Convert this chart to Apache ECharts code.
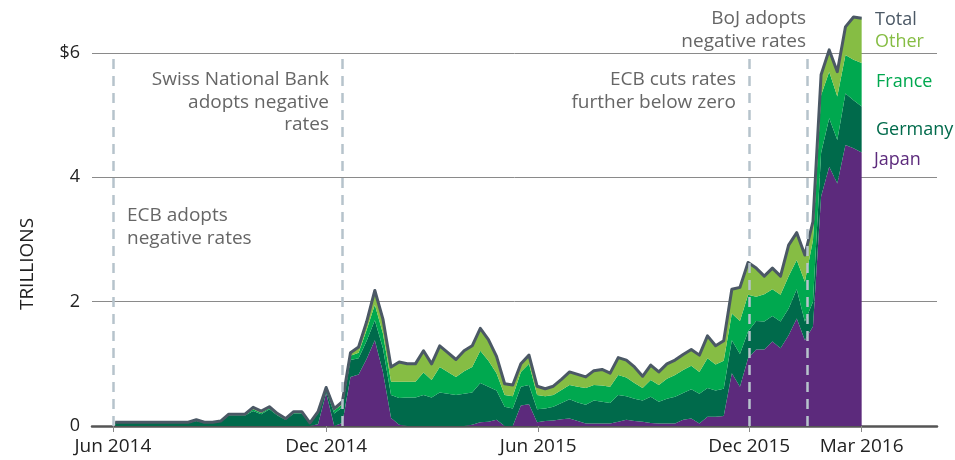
<!DOCTYPE html>
<html>
<head>
<meta charset="utf-8">
<script src="https://cdn.jsdelivr.net/npm/echarts@6/dist/echarts.min.js"></script>
<style>
  html, body { margin: 0; padding: 0; background: #fff; }
  #chart { width: 955px; height: 460px; }
</style>
</head>
<body>
<div id="chart"></div>
<script>
// weekly holdings in $ trillions, first week ending 2014-05-30
const firstWeek = Date.UTC(2014, 4, 30);
const japan = [
  0, 0, 0, 0, 0, 0, 0, 0, 0, 0, 0, 0, 0, 0, 0, 0, 0, 0, 0, 0, 0, 0, 0, 0, 0,
  0.03, 0.53, 0, 0.05, 0.79, 0.83, 1.08, 1.38, 0.87, 0.13, 0.02,
  0, 0, 0, 0, 0, 0, 0, 0,
  0.02, 0.06, 0.07, 0.1, 0, 0, 0.33, 0.35, 0.06, 0.08, 0.09, 0.11, 0.12, 0.08, 0.04, 0.04,
  0.04, 0.04, 0.07, 0.1, 0.08, 0.07, 0.05, 0.04, 0.04, 0.04, 0.1, 0.12, 0.04, 0.15, 0.15,
  0.16, 0.85, 0.63, 1.09, 1.23, 1.23, 1.36, 1.25, 1.46, 1.73, 1.38, 1.6, 3.69, 4.17, 3.9,
  4.52, 4.47, 4.4
];
const germany = [
  0.05, 0.05, 0.05, 0.05, 0.05, 0.05, 0.05, 0.05, 0.05, 0.05, 0.08, 0.05, 0.05, 0.07,
  0.17, 0.17, 0.17, 0.24, 0.19, 0.27, 0.17, 0.1, 0.2, 0.2, 0.04, 0.17, 0.04, 0.2, 0.25,
  0.27, 0.26, 0.29, 0.32, 0.38, 0.37, 0.43, 0.46, 0.46, 0.5, 0.46, 0.54, 0.52, 0.5, 0.52,
  0.52, 0.63, 0.56, 0.47, 0.31, 0.28, 0.3, 0.31, 0.21, 0.2, 0.22, 0.26, 0.31, 0.3, 0.3,
  0.37, 0.35, 0.33, 0.43, 0.38, 0.36, 0.34, 0.42, 0.35, 0.4, 0.43, 0.43, 0.47, 0.48, 0.46,
  0.42, 0.44, 0.53, 0.53, 0.43, 0.46, 0.45, 0.41, 0.43, 0.43, 0.47, 0.3, 0.4, 0.7, 0.78,
  0.7, 0.83, 0.77, 0.74
];
const france = [
  0.01, 0.01, 0.01, 0.01, 0.01, 0.01, 0.01, 0.01, 0.01, 0.01, 0.01, 0.01, 0.01, 0.01,
  0.01, 0.01, 0.01, 0.03, 0.02, 0.02, 0.01, 0.01, 0.01, 0.01, 0.01, 0.01, 0.03, 0.05, 0.05,
  0.07, 0.09, 0.18, 0.25, 0.24, 0.21, 0.26, 0.25, 0.25, 0.36, 0.28, 0.41, 0.35, 0.29, 0.36,
  0.41, 0.52, 0.42, 0.28, 0.19, 0.2, 0.24, 0.34, 0.23, 0.2, 0.19, 0.21, 0.23, 0.25, 0.27,
  0.25, 0.26, 0.26, 0.32, 0.3, 0.25, 0.2, 0.27, 0.27, 0.32, 0.35, 0.37, 0.38, 0.35, 0.48,
  0.42, 0.45, 0.43, 0.53, 0.59, 0.39, 0.44, 0.43, 0.43, 0.52, 0.47, 0.64, 0.99, 0.93, 0.75,
  0.7, 0.62, 0.65, 0.7
];
const other = [
  0, 0, 0, 0, 0, 0, 0, 0, 0, 0, 0.01, 0, 0, 0,
  0.01, 0.01, 0.01, 0.03, 0.03, 0.02, 0.02, 0.01, 0.02, 0.02, 0, 0.02, 0.02, 0.03, 0.04,
  0.05, 0.09, 0.13, 0.23, 0.23, 0.24, 0.32, 0.29, 0.29, 0.35, 0.26, 0.34, 0.31, 0.28, 0.33,
  0.34, 0.36, 0.34, 0.27, 0.18, 0.18, 0.13, 0.14, 0.14, 0.12, 0.14, 0.17, 0.21, 0.2, 0.18,
  0.23, 0.26, 0.22, 0.28, 0.28, 0.26, 0.19, 0.24, 0.21, 0.24, 0.24, 0.25, 0.26, 0.27, 0.36,
  0.3, 0.32, 0.39, 0.54, 0.52, 0.46, 0.29, 0.34, 0.3, 0.5, 0.44, 0.43, 0.3, 0.33, 0.35,
  0.4, 0.45, 0.69, 0.72
];

const tickDates = [Date.UTC(2014, 4, 28), Date.UTC(2014, 10, 28), Date.UTC(2015, 4, 30), Date.UTC(2015, 10, 28), Date.UTC(2016, 2, 4)];
const tickLabels = ['Jun 2014', 'Dec 2014', 'Jun 2015', 'Dec 2015', 'Mar 2016'];
const yTicks = [0, 2, 4, 6];

const eventDates = [Date.UTC(2014, 4, 28), Date.UTC(2014, 11, 12), Date.UTC(2015, 10, 28), Date.UTC(2016, 0, 17)];

const xMin = Date.UTC(2014, 4, 10);
const xMax = Date.UTC(2016, 4, 8);

const FONT = '"Open Sans", sans-serif';
const colors = { japan: '#5c2a7c', germany: '#006a4b', france: '#00a84f', other: '#86bd44', total: '#4b5865' };

const week = 7 * 24 * 3600 * 1000;
const dates = japan.map((_, i) => firstWeek + i * week);
const pairs = arr => arr.map((v, i) => [dates[i], v]);
const total = japan.map((v, i) => +(v + germany[i] + france[i] + other[i]).toFixed(2));

const chart = echarts.init(document.getElementById('chart'));

function areaSeries(name, data, color) {
  return {
    name: name,
    type: 'line',
    stack: 'all',
    data: pairs(data),
    showSymbol: false,
    lineStyle: { width: 0 },
    areaStyle: { color: color, opacity: 1 },
    itemStyle: { color: color }
  };
}

function text(x, y, str, color, align, vAlign, size, extra) {
  return Object.assign({
    type: 'text', x: x, y: y, silent: true,
    style: { text: str, fill: color, font: size + 'px ' + FONT, align: align, verticalAlign: vAlign, lineHeight: 22.5 }
  }, extra || {});
}

chart.setOption({
  animation: false,
  grid: { left: 92, right: 18, top: 9.5, bottom: 34, outerBoundsMode: 'none' },
  xAxis: [
    {
      // data axis (hidden), weekly dates
      type: 'time',
      position: 'top',
      min: xMin,
      max: xMax,
      axisLine: { show: false },
      axisTick: { show: false },
      axisLabel: { show: false },
      splitLine: { show: false }
    },
    {
      // visible axis with the custom date ticks
      type: 'value',
      position: 'bottom',
      min: xMin,
      max: xMax,
      axisLine: { lineStyle: { color: '#555', width: 2.5 } },
      axisTick: { customValues: tickDates, length: 6, lineStyle: { color: '#888', width: 1 } },
      axisLabel: {
        customValues: tickDates,
        color: '#222',
        fontFamily: FONT,
        fontSize: 19,
        margin: 11,
        formatter: v => { const i = tickDates.indexOf(v); return i >= 0 ? tickLabels[i] : ''; }
      },
      splitLine: { show: false }
    }
  ],
  yAxis: {
    type: 'value',
    min: 0,
    max: 6.7,
    axisLine: { show: false },
    axisTick: { show: false, customValues: yTicks },
    axisLabel: {
      customValues: yTicks,
      color: '#222',
      fontFamily: FONT,
      fontSize: 18,
      margin: 12,
      formatter: v => v === 6 ? '$6' : String(v)
    },
    splitLine: { lineStyle: { color: '#8a8a8a', width: 1 } }
  },
  series: [
    areaSeries('Japan', japan, colors.japan),
    areaSeries('Germany', germany, colors.germany),
    areaSeries('France', france, colors.france),
    areaSeries('Other', other, colors.other),
    {
      name: 'Total',
      type: 'line',
      data: pairs(total),
      showSymbol: false,
      z: 4,
      lineStyle: { color: colors.total, width: 3, join: 'round' },
      markLine: {
        silent: true,
        symbol: 'none',
        label: { show: false },
        lineStyle: { color: '#b6c3cc', width: 2.5, type: [10, 7] },
        data: eventDates.map(d => [{ coord: [d, 0] }, { coord: [d, 6] }])
      }
    }
  ],
  graphic: [
    text(28, 264, 'TRILLIONS', '#222', 'center', 'middle', 19, { rotation: Math.PI / 2 }),
    text(127, 204.5, 'ECB adopts\nnegative rates', '#666', 'left', 'top', 19),
    text(329, 68.5, 'Swiss National Bank\nadopts negative\nrates', '#666', 'right', 'top', 19),
    text(736, 68.5, 'ECB cuts rates\nfurther below zero', '#666', 'right', 'top', 19),
    text(806, 7.5, 'BoJ adopts\nnegative rates', '#666', 'right', 'top', 19),
    text(875, 20, 'Total', colors.total, 'left', 'middle', 18),
    text(875, 42, 'Other', colors.other, 'left', 'middle', 18),
    text(876, 82, 'France', colors.france, 'left', 'middle', 18),
    text(876, 130, 'Germany', colors.germany, 'left', 'middle', 18),
    text(874, 160, 'Japan', colors.japan, 'left', 'middle', 18)
  ]
});
</script>
</body>
</html>
